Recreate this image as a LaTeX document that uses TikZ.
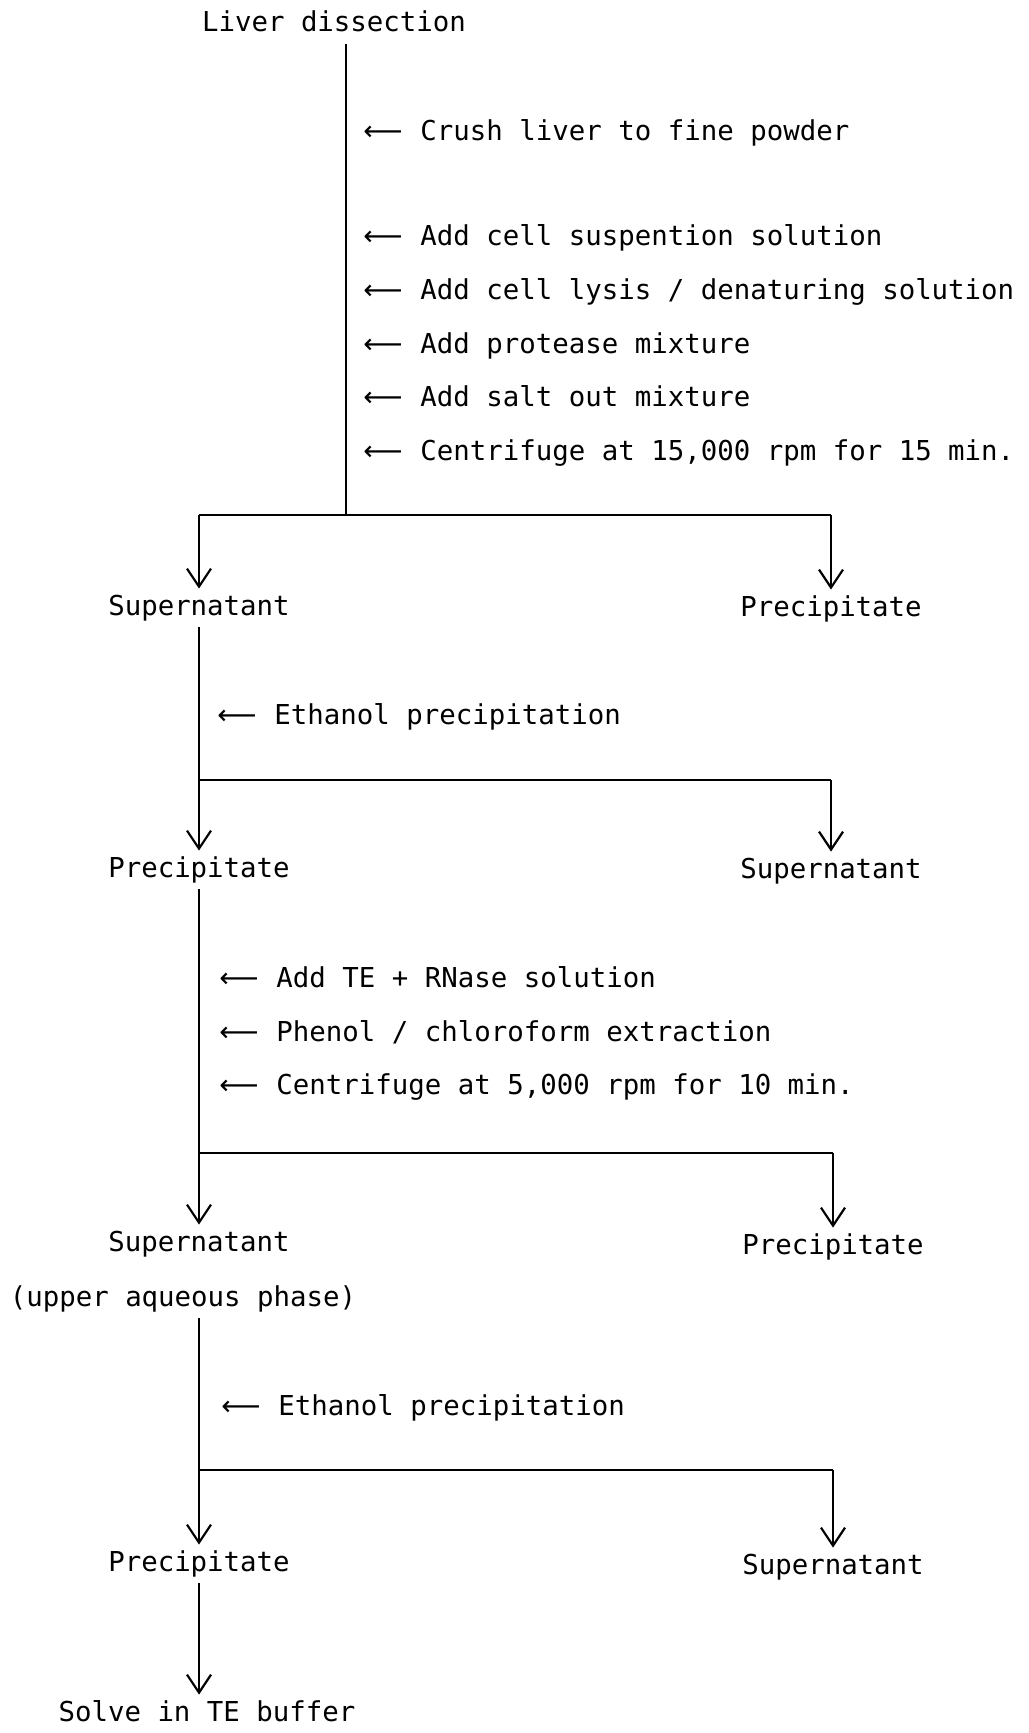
\documentclass[tikz,border=0pt]{standalone}
\usepackage{fontspec}
\setmainfont{DejaVu Sans Mono}
\newfontfamily\arrowfont{DejaVu Sans}
\usetikzlibrary{arrows.meta,calc}
\newcommand\leftarr{\makebox[28.5pt][l]{\arrowfont ⟵}}
\tikzset{
  phase/.style={
    inner sep = 3pt,
    text height = 10pt,
    text depth = 3pt
  },
  stepnote/.style={
    anchor = west,
    inner sep = 0pt,
    text height = 10pt,
    text depth = 3pt
  },
  flow/.style={
    line width = 1.1pt
  },
  down/.style={
    flow,
    -{Straight Barb[length=9pt,width=12pt,line width=1.1pt]}
  },
  every picture/.style = {
    x = 0.5pt,
    y = -0.5pt,
    font = \fontsize{13.7}{16}\selectfont
  }
}
\begin{document}
\begin{tikzpicture}
    \useasboundingbox (0,0) rectangle (1028,1733);
    % start and first split
    \node[phase] (liver) at (334,25) {Liver dissection};
    \coordinate (j1) at (346,515);
    \foreach \y/\txt [count=\i] in {134/Crush liver to fine powder,
            239/Add cell suspention solution,
            293/{Add cell lysis / denaturing solution},
            347/Add protease mixture,
            400/Add salt out mixture,
            453/{Centrifuge at 15,000 rpm for 15 min.}}{
            \node[stepnote] (a\i) at (363,\y) {\leftarr\txt};
        }
    \node[phase] (sup1) at (199,608) {Supernatant};
    \node[phase] (pre1) at (831,609) {Precipitate};
    \draw[flow] (liver.south -| j1) -- (j1);
    \draw[flow] (sup1 |- j1) -- (pre1 |- j1);
    \draw[down] (sup1 |- j1) -- (sup1.north);
    \draw[down] (pre1 |- j1) -- (pre1.north);
    % ethanol precipitation
    \coordinate (j2) at (199,780);
    \node[stepnote] (b1) at (217,717) {\leftarr Ethanol precipitation};
    \node[phase] (pre2) at (199,870) {Precipitate};
    \node[phase] (sup2) at (831,871) {Supernatant};
    \draw[flow] (sup1.south) -- (j2);
    \draw[flow] (pre2 |- j2) -- (sup2 |- j2);
    \draw[down] (pre2 |- j2) -- (pre2.north);
    \draw[down] (sup2 |- j2) -- (sup2.north);
    % extraction
    \coordinate (j3) at (199,1153);
    \foreach \y/\txt [count=\i] in {980/Add TE + RNase solution,
            1034/{Phenol / chloroform extraction},
            1087/{Centrifuge at 5,000 rpm for 10 min.}}{
            \node[stepnote] (c\i) at (219,\y) {\leftarr\txt};
        }
    \node[phase] (sup3) at (199,1244) {Supernatant};
    \node[phase] (aq) at (183,1299) {(upper aqueous phase)};
    \node[phase] (pre3) at (833,1247) {Precipitate};
    \draw[flow] (pre2.south) -- (j3);
    \draw[flow] (sup3 |- j3) -- (pre3 |- j3);
    \draw[down] (sup3 |- j3) -- (sup3.north);
    \draw[down] (pre3 |- j3) -- (pre3.north);
    % second ethanol precipitation
    \coordinate (j4) at (199,1470);
    \node[stepnote] (d1) at (221,1408) {\leftarr Ethanol precipitation};
    \node[phase] (pre4) at (199,1564) {Precipitate};
    \node[phase] (sup4) at (833,1567) {Supernatant};
    \node[phase] (solve) at (207,1714) {Solve in TE buffer};
    \draw[flow] (aq.south -| j4) -- (j4);
    \draw[flow] (pre4 |- j4) -- (sup4 |- j4);
    \draw[down] (pre4 |- j4) -- (pre4.north);
    \draw[down] (sup4 |- j4) -- (sup4.north);
    \draw[down] (pre4.south) -- (pre4 |- solve.north);
\end{tikzpicture}
\end{document}
